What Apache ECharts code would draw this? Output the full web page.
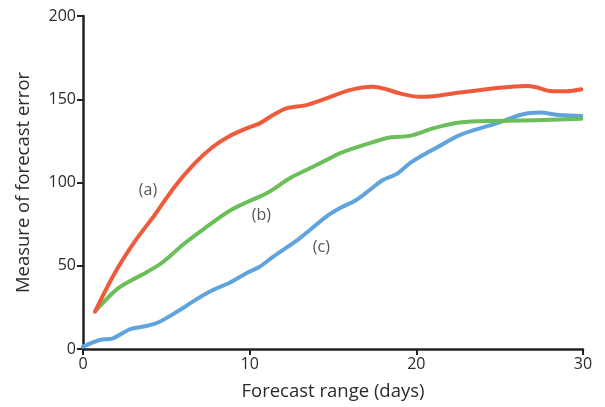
<!DOCTYPE html>
<html><head><meta charset="utf-8">
<script src="https://cdn.jsdelivr.net/npm/echarts@6/dist/echarts.min.js"></script>
<style>html,body{margin:0;padding:0;background:#fff}#c{width:605px;height:407px}</style>
</head><body><div id="c"></div>
<script>
const seriesA = [[0.72,22.5],[1.9,45.5],[3.1,64.5],[4.3,80.5],[5.5,97.5],[6.7,111.5],[7.8,121.5],[8.8,128],[9.8,132.5],[10.6,135.5],[11.4,140.5],[12.2,144.5],[13.4,146.5],[14.6,150.5],[16,155.5],[17.4,157.5],[18.2,156],[19,153.5],[20.2,151.5],[21,151.8],[22.6,154],[24.6,156.5],[26.6,158],[27.2,157.2],[28,155],[29,154.8],[29.9,156]];
const seriesB = [[0.72,22.5],[2.1,36.4],[3.5,44.4],[4.7,51.5],[6.1,63.5],[7.3,72.5],[8.8,83],[9.8,88],[10.6,91.5],[11.2,94.5],[12.4,102.5],[13.4,107.5],[14.8,114.5],[15.4,117.5],[17,123],[18.4,127],[19.6,128],[21,132.5],[22.6,136],[24.8,137],[27.6,137.5],[29.9,138.3]];
const seriesC = [[0,1.4],[1,5.4],[1.8,6.4],[2.8,11.8],[3.8,13.8],[4.6,16.4],[5.8,23.4],[6.8,29.8],[7.8,35.4],[8.8,39.8],[9.8,45.5],[10.6,49.4],[11.4,55.4],[13,66.5],[14.6,79.5],[15.4,84.5],[16.4,89.5],[17.2,95.5],[18,101.5],[18.8,105],[19.6,111.5],[20.4,116.5],[21.4,122],[22.6,128.5],[24.8,135.5],[26.4,141],[27.4,142],[28.6,140.5],[29.9,140]];
const curveLabels = [[3.9,95.5,'(a)'],[10.7,80,'(b)'],[14.3,60.7,'(c)']];
const xTicks = [0,10,20,30];
const yTicks = [0,50,100,150,200];

const FONT = '"Open Sans", Lato, sans-serif';
const TXT = '#2b2b2b';
const chart = echarts.init(document.getElementById('c'), null, {renderer:'canvas'});
function line(data, color){
  return {type:'line', data:data, smooth:0.3, showSymbol:false, symbol:'none',
    lineStyle:{color:color, width:4, cap:'round', join:'round'}, z:2};
}
chart.setOption({
  animation:false,
  grid:{left:83, right:22, top:16, bottom:58},
  xAxis:{type:'value', min:xTicks[0], max:xTicks[xTicks.length-1], interval:10,
    name:'Forecast range (days)', nameLocation:'middle', nameGap:33,
    nameTextStyle:{fontFamily:FONT, fontSize:18.5, color:TXT},
    axisLine:{lineStyle:{color:'#222', width:2.5}},
    axisTick:{length:6, lineStyle:{color:'#222', width:2}},
    axisLabel:{fontFamily:FONT, fontSize:16, color:TXT, margin:7},
    splitLine:{show:false}},
  yAxis:{type:'value', min:yTicks[0], max:yTicks[yTicks.length-1], interval:50,
    name:'Measure of forecast error', nameLocation:'middle', nameGap:50, nameRotate:90,
    nameTextStyle:{fontFamily:FONT, fontSize:18.5, color:TXT},
    axisLine:{show:true, lineStyle:{color:'#222', width:2.5}},
    axisTick:{show:true, length:6, lineStyle:{color:'#222', width:2}},
    axisLabel:{fontFamily:FONT, fontSize:16, color:TXT, margin:7},
    splitLine:{show:false}},
  series:[
    line(seriesC,'#5FA4DC'),
    line(seriesB,'#6CBE5B'),
    line(seriesA,'#EE5A3A'),
    {type:'scatter', symbolSize:0, data:curveLabels.map(d=>[d[0],d[1],d[2]]),
     label:{show:true, position:'inside', formatter:p=>p.data[2], fontFamily:FONT, fontSize:16, color:TXT}, z:3}
  ]
});
</script></body></html>
